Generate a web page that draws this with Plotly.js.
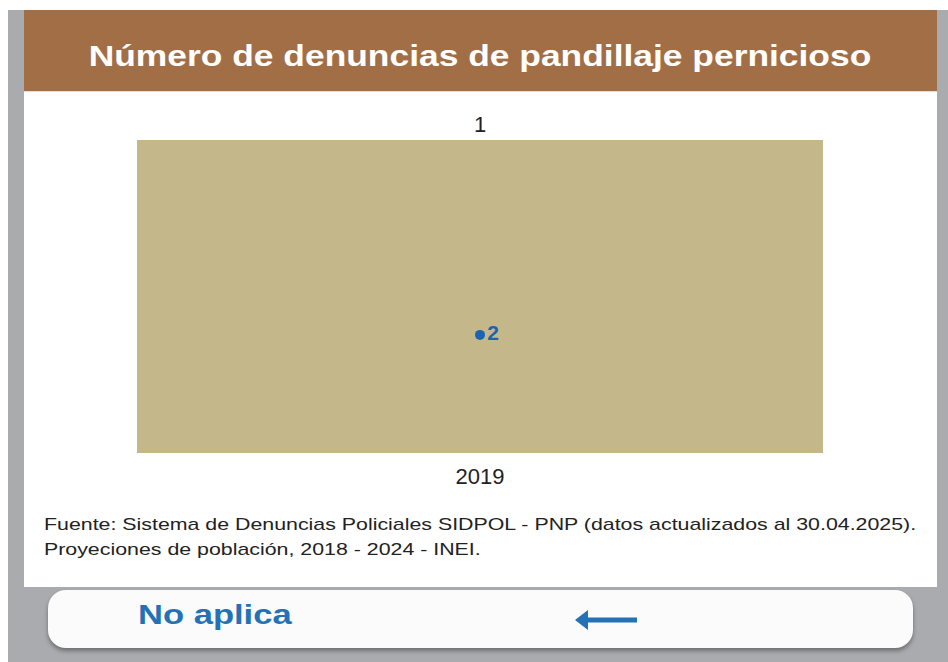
<!DOCTYPE html>
<html>
<head>
<meta charset="utf-8">
<script src="https://cdn.plot.ly/plotly-3.0.1.min.js"></script>
<style>
  html, body { margin:0; padding:0; background:#ffffff; }
  body { width:948px; height:662px; overflow:hidden; position:relative; font-family:"Liberation Sans", Arial, sans-serif; }
  #bg { position:absolute; left:8px; top:10px; width:940px; height:652px; background:#aaabaf; }
  #header { position:absolute; left:24px; top:10px; width:913px; height:81px; background:#a26e46; }
  #hline { position:absolute; left:24px; top:91px; width:913px; height:1px; background:#e9dccf; }
  #card { position:absolute; left:24px; top:92px; width:913px; height:495px; background:#ffffff; }
  #btn { position:absolute; left:48px; top:590px; width:865px; height:58px; background:#fbfbfb; border-radius:18px; box-shadow:0 3px 4px rgba(0,0,0,0.35); }
  #btntext { position:absolute; left:138px; top:600px; font-weight:bold; font-size:27px; color:#2472b5; white-space:nowrap; transform:scaleX(1.28); transform-origin:left center; }
  #arrow { position:absolute; left:573px; top:608px; }
  #chart { position:absolute; left:0; top:0; width:948px; height:662px; }
</style>
</head>
<body>
<div id="bg"></div>
<div id="header"></div>
<div id="hline"></div>
<div id="card"></div>
<div id="btn"></div>
<div id="btntext">No aplica</div>
<svg id="arrow" width="68" height="24" viewBox="0 0 68 24">
  <path d="M2 12 L15 2 L15 9.5 L64 9.5 L64 14.5 L15 14.5 L15 22 Z" fill="#2472b5"/>
</svg>
<div id="chart"></div>
<script>
const years = ['2019'];
const denuncias = [1];
const tasa = [2];
const titleText = 'Número de denuncias de pandillaje pernicioso';
const fuenteLine1 = 'Fuente: Sistema de Denuncias Policiales SIDPOL - PNP (datos actualizados al 30.04.2025).';
const fuenteLine2 = 'Proyeciones de población, 2018 - 2024 - INEI.';

const FONT = '"Liberation Sans", Arial, sans-serif';

const barTrace = {
  type: 'bar',
  x: years,
  y: denuncias,
  text: denuncias.map(String),
  textposition: 'outside',
  cliponaxis: false,
  textfont: { family: FONT, size: 22, color: '#222222' },
  marker: { color: '#c4b88a' },
  hoverinfo: 'skip'
};

const pointTrace = {
  type: 'scatter',
  mode: 'markers+text',
  x: years,
  y: tasa,
  yaxis: 'y2',
  text: tasa.map(String),
  texttemplate: '<b>%{text}</b>',
  textposition: 'middle right',
  cliponaxis: false,
  textfont: { family: FONT, size: 21, color: '#1f63b0' },
  marker: { color: '#1a64b5', size: 10 },
  hoverinfo: 'skip'
};

function px2paperX(px) { return (px - 137) / 686; }
function px2paperY(py) { return (453 - py) / 313; }

const layout = {
  width: 948,
  height: 662,
  margin: { l: 137, r: 125, t: 140, b: 209 },
  paper_bgcolor: 'rgba(0,0,0,0)',
  plot_bgcolor: 'rgba(0,0,0,0)',
  showlegend: false,
  hovermode: false,
  bargap: 0,
  title: {
    text: '<b>' + titleText + '</b>',
    font: { family: FONT, size: 30, color: '#ffffff' },
    x: 0.5, xref: 'paper', xanchor: 'center',
    y: 1 - 56 / 662, yref: 'container', yanchor: 'middle'
  },
  xaxis: {
    type: 'category',
    range: [-0.5, 0.5],
    showgrid: false, zeroline: false, showline: false,
    ticks: '',
    ticklabelstandoff: 8,
    tickfont: { family: FONT, size: 22, color: '#222222' }
  },
  yaxis: { visible: false, range: [0, 1], fixedrange: true },
  yaxis2: { visible: false, overlaying: 'y', range: [0, 5.3], fixedrange: true },
  annotations: [
    {
      text: fuenteLine1,
      xref: 'paper', yref: 'paper',
      x: px2paperX(42), y: px2paperY(524),
      xanchor: 'left', yanchor: 'middle', align: 'left',
      showarrow: false,
      font: { family: FONT, size: 16, color: '#222222' }
    },
    {
      text: fuenteLine2,
      xref: 'paper', yref: 'paper',
      x: px2paperX(42), y: px2paperY(549),
      xanchor: 'left', yanchor: 'middle', align: 'left',
      showarrow: false,
      font: { family: FONT, size: 16, color: '#222222' }
    }
  ]
};

function stretch(el, s, anchor) {
  const b = el.getBBox();
  const cx = anchor === 'left' ? b.x : b.x + b.width / 2;
  const t = el.getAttribute('transform') || '';
  el.setAttribute('transform', t + ' translate(' + cx + ',0) scale(' + s + ',1) translate(' + (-cx) + ',0)');
}

Plotly.newPlot('chart', [barTrace, pointTrace], layout, { displayModeBar: false, staticPlot: true }).then(function (gd) {
  const title = gd.querySelector('.gtitle');
  if (title) stretch(title, 1.18, 'center');
  gd.querySelectorAll('.annotation-text').forEach(function (el) { stretch(el, 1.335, 'left'); });
});
</script>
</body>
</html>
